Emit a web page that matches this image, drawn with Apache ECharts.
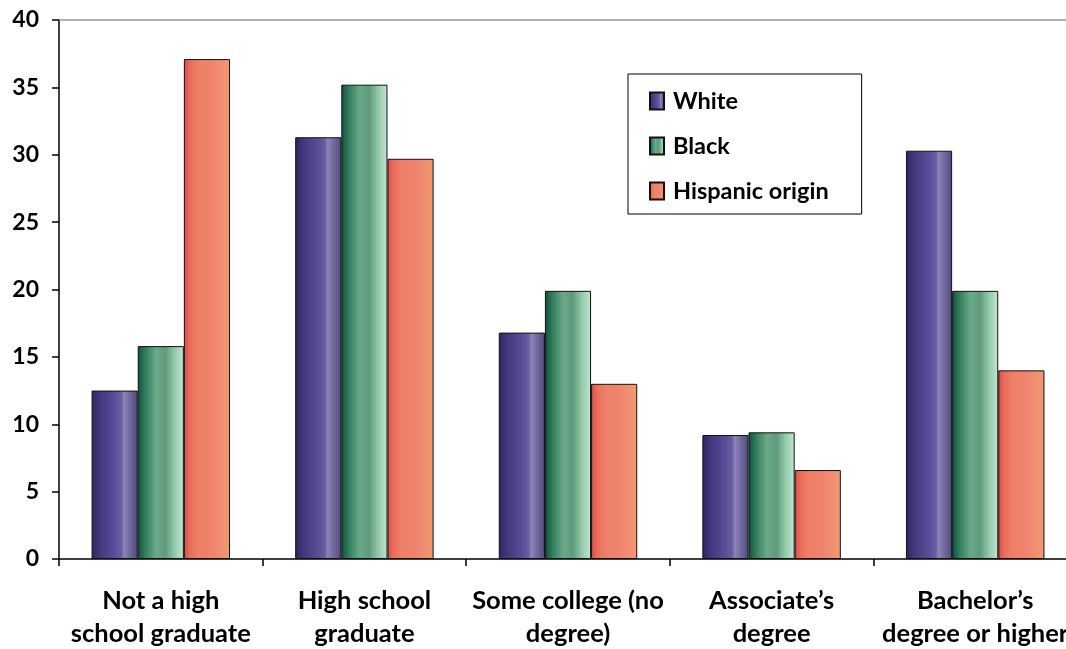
<!DOCTYPE html>
<html>
<head>
<meta charset="utf-8">
<script src="https://cdn.jsdelivr.net/npm/echarts@6/dist/echarts.min.js"></script>
<style>
  html, body { margin: 0; padding: 0; background: #fff; }
  #chart { width: 1066px; height: 649px; }
</style>
</head>
<body>
<div id="chart"></div>
<script>
// Educational attainment by race / origin (percent)
const categories = [
  'Not a high\nschool graduate',
  'High school\ngraduate',
  'Some college (no\ndegree)',
  'Associate\u2019s\ndegree',
  'Bachelor\u2019s\ndegree or higher'
];
const seriesNames = ['White', 'Black', 'Hispanic origin'];
const whiteValues = [12.5, 31.3, 16.8, 9.2, 30.3];
const blackValues = [15.8, 35.2, 19.9, 9.4, 19.9];
const hispanicValues = [37.1, 29.7, 13.0, 6.6, 14.0];
const yTicks = [0, 5, 10, 15, 20, 25, 30, 35, 40];

const FONT = 'Lato, "Open Sans", sans-serif';

function hGrad(stops) {
  return new echarts.graphic.LinearGradient(0, 0, 1, 0,
    stops.map(s => ({ offset: s[0], color: s[1] })));
}

const fills = [
  hGrad([[0, '#2c2660'], [0.2, '#44397f'], [0.5, '#5b4c98'], [0.65, '#6a5ea4'], [0.7, '#8d84b6'], [0.78, '#7c73a8'], [1, '#4f4a80']]),
  hGrad([[0, '#0f4f3a'], [0.15, '#2f7a5c'], [0.4, '#6aaa88'], [0.6, '#5f9a7c'], [0.8, '#93caa9'], [1, '#c4e6d2']]),
  hGrad([[0, '#cf4c42'], [0.12, '#ec6a5c'], [0.3, '#ee8066'], [0.6, '#f08270'], [1, '#f29a70']])
];

const valueSets = [whiteValues, blackValues, hispanicValues];

const chart = echarts.init(document.getElementById('chart'), null, { renderer: 'canvas' });

chart.setOption({
  animation: false,
  backgroundColor: '#ffffff',
  grid: { left: 59, right: -11, top: 20, bottom: 90, containLabel: false, outerBoundsMode: 'none' },
  legend: {
    orient: 'vertical',
    left: 628,
    top: 74,
    padding: [15, 33, 11, 21],
    itemGap: 21,
    itemWidth: 14,
    itemHeight: 17,
    borderColor: '#000',
    borderWidth: 1,
    backgroundColor: '#fff',
    icon: 'rect',
    data: seriesNames,
    textStyle: { fontFamily: FONT, fontWeight: 'bold', fontSize: 23.5, color: '#000', lineHeight: 24, padding: [0, 0, 0, 4] }
  },
  xAxis: [
    {
      type: 'category',
      data: categories,
      boundaryGap: true,
      axisLine: { lineStyle: { color: '#000', width: 1.5 } },
      axisTick: { show: true, length: 7, lineStyle: { color: '#000', width: 1.5 } },
      axisLabel: {
        interval: 0,
        margin: 25,
        fontFamily: FONT,
        fontWeight: 'bold',
        fontSize: 25.5,
        lineHeight: 33,
        color: '#000'
      }
    },
    {
      type: 'category',
      position: 'top',
      data: categories,
      axisLine: { show: true, lineStyle: { color: '#999', width: 1.5 } },
      axisTick: { show: false },
      axisLabel: { show: false }
    }
  ],
  yAxis: {
    type: 'value',
    min: 0,
    max: 40,
    interval: 5,
    axisLine: { show: true, lineStyle: { color: '#000', width: 1.5 } },
    axisTick: { show: true, inside: false, length: 7, lineStyle: { color: '#000', width: 1.5 } },
    splitLine: { show: false },
    axisLabel: {
      margin: 20,
      fontFamily: FONT,
      fontWeight: 'bold',
      fontSize: 23,
      color: '#000',
      formatter: v => (yTicks.includes(v) ? String(v) : '')
    }
  },
  series: seriesNames.map((name, i) => ({
    name,
    type: 'bar',
    xAxisIndex: 0,
    data: valueSets[i],
    barGap: '0%',
    barCategoryGap: '32%',
    itemStyle: { color: fills[i], borderColor: '#111', borderWidth: 1 }
  }))
});
</script>
</body>
</html>
